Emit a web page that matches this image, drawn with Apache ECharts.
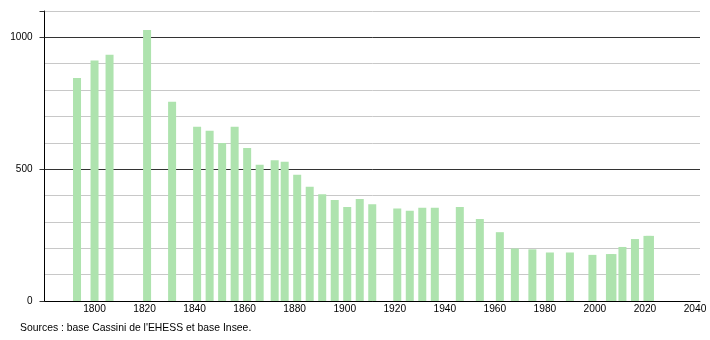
<!DOCTYPE html>
<html>
<head>
<meta charset="utf-8">
<script src="https://cdn.jsdelivr.net/npm/echarts@6/dist/echarts.min.js"></script>
<style>
html,body{margin:0;padding:0;background:#fff;}
#chart{width:710px;height:340px;}
</style>
</head>
<body>
<div id="chart"></div>
<script>
const years = [1793,1800,1806,1821,1831,1841,1846,1851,1856,1861,1866,1872,1876,1881,1886,1891,1896,1901,1906,1911,1921,1926,1931,1936,1946,1954,1962,1968,1975,1982,1990,1999,2006,2007,2011,2016,2021,2022];
const population = [846,912,934,1028,756,661,646,599,661,580,517,534,528,479,433,405,383,357,387,367,351,342,354,354,357,311,261,199,196,184,184,175,178,178,205,235,247,247];
const yLabelValues = [0,500,1000];
const sourceText = "Sources : base Cassini de l'EHESS et base Insee.";

const chart = echarts.init(document.getElementById('chart'), null, {renderer:'canvas'});
const font = 'Liberation Sans, Arial, sans-serif';
chart.setOption({
  animation:false,
  backgroundColor:'#fff',
  grid:{left:44.5, right:10, top:11, bottom:39, containLabel:false},
  xAxis:{
    type:'value', min:1780, max:2042, interval:20,
    axisLine:{show:true, lineStyle:{color:'#000', width:1}},
    axisTick:{show:false},
    splitLine:{show:false},
    axisLabel:{show:true, showMinLabel:false, showMaxLabel:false, color:'#000', fontSize:10.2, fontFamily:font, margin:3,
      formatter: v => (v % 20 === 0 && v > 1780) ? String(v) : ''}
  },
  yAxis:[{
    type:'value', min:0, max:1100, interval:100, position:'left',
    axisLine:{show:true, lineStyle:{color:'#000', width:1}},
    axisTick:{show:false},
    axisLabel:{show:false},
    splitLine:{show:true, lineStyle:{color:['#333','#c8c8c8','#c8c8c8','#c8c8c8','#c8c8c8'], width:1}}
  },{
    type:'value', min:0, max:1100, interval:500, position:'left',
    axisLine:{show:false},
    axisTick:{show:true, length:5, lineStyle:{color:'#333'}},
    splitLine:{show:false},
    axisLabel:{show:true, color:'#000', fontSize:10, fontFamily:font, margin:12,
      formatter: v => yLabelValues.includes(v) ? String(v) : ''}
  }],
  series:[{
    type:'bar',
    xAxisIndex:0, yAxisIndex:0,
    data: years.map((y,i)=>[y, population[i]]),
    barWidth:8,
    barGap:'-100%',
    itemStyle:{color:'#aee3ae'}
  }],
  graphic:[{
    type:'text', left:20, top:323,
    style:{text:sourceText, fill:'#000', font:'10.4px '+font}
  }]
});
</script>
</body>
</html>
